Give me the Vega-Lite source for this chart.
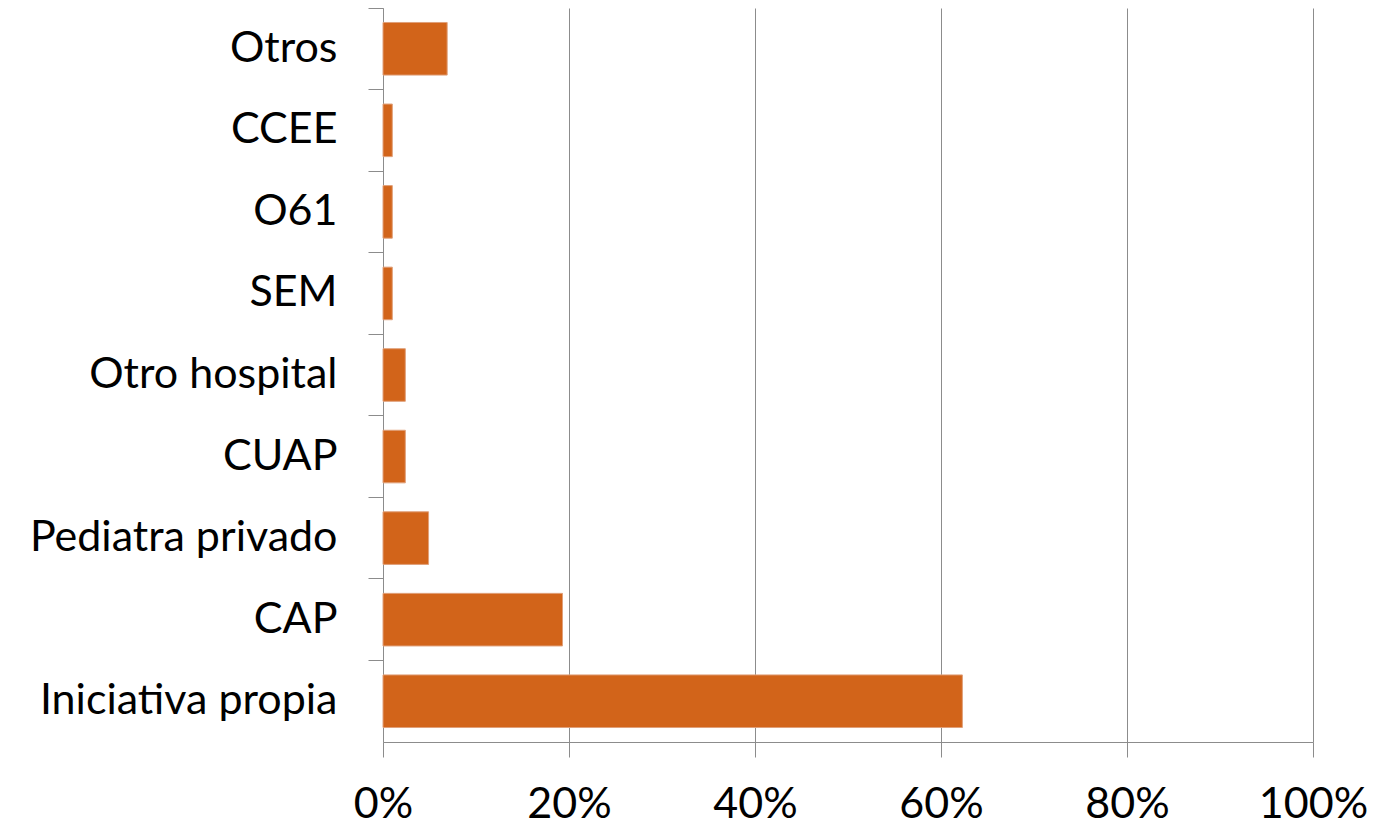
{
  "$schema": "https://vega.github.io/schema/vega-lite/v6.json",
  "autosize": "none",
  "padding": {"left": 383, "top": 8, "right": 72, "bottom": 83},
  "width": 930,
  "height": 734,
  "background": "white",
  "data": {
    "values": [
      {"categoria": "Otros", "valor": 0.069},
      {"categoria": "CCEE", "valor": 0.01},
      {"categoria": "O61", "valor": 0.01},
      {"categoria": "SEM", "valor": 0.01},
      {"categoria": "Otro hospital", "valor": 0.024},
      {"categoria": "CUAP", "valor": 0.024},
      {"categoria": "Pediatra privado", "valor": 0.049},
      {"categoria": "CAP", "valor": 0.193},
      {"categoria": "Iniciativa propia", "valor": 0.623}
    ]
  },
  "config": {
    "view": {"stroke": null},
    "axis": {
      "labelFont": "Lato",
      "labelFontSize": 43,
      "labelColor": "#000000",
      "labelLimit": 1000,
      "domainColor": "#8c8c8c",
      "tickColor": "#8c8c8c",
      "gridColor": "#8c8c8c",
      "domainWidth": 1,
      "tickWidth": 1,
      "gridWidth": 1
    }
  },
  "mark": {"type": "bar", "color": "#D2641A", "stroke": "#E0A07A", "strokeWidth": 1, "height": {"band": 0.645}},
  "encoding": {
    "y": {
      "field": "categoria",
      "type": "nominal",
      "sort": null,
      "scale": {"paddingInner": 0, "paddingOuter": 0},
      "axis": {
        "title": null,
        "bandPosition": 0,
        "tickSize": 15,
        "labelPadding": 31,
        "grid": false
      }
    },
    "x": {
      "field": "valor",
      "type": "quantitative",
      "scale": {"domain": [0, 1], "nice": false},
      "axis": {
        "title": null,
        "format": ".0%",
        "values": [0, 0.2, 0.4, 0.6, 0.8, 1],
        "tickSize": 15,
        "labelPadding": 26,
        "labelFlush": false,
        "grid": true,
        "domain": true
      }
    }
  }
}
